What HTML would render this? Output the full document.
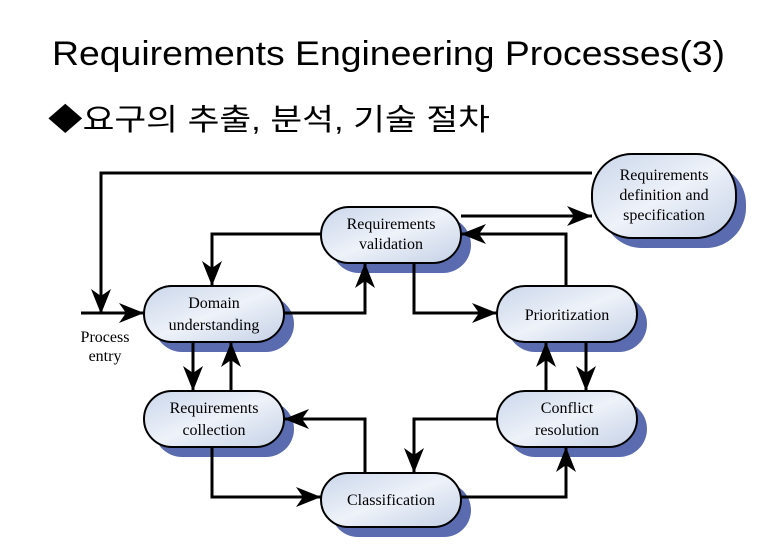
<!DOCTYPE html>
<html><head><meta charset="utf-8"><style>
body{margin:0;background:#fff;width:780px;height:540px;overflow:hidden}
</style></head><body>
<svg width="780" height="540" xmlns="http://www.w3.org/2000/svg">
<defs>
<linearGradient id="g" x1="0" y1="0" x2="1" y2="1">
<stop offset="0" stop-color="#c9d6ea"/><stop offset="0.5" stop-color="#eef2f9"/><stop offset="1" stop-color="#c4d1e6"/>
</linearGradient>
<marker id="a" markerWidth="26" markerHeight="20" refX="25" refY="10" orient="auto" markerUnits="userSpaceOnUse">
<path d="M0,0 L25,10 L0,20 L7,10 Z" fill="#000"/>
</marker>
</defs>
<text x="52" y="65" font-family="'Liberation Sans',sans-serif" font-size="34" fill="#000" textLength="673" lengthAdjust="spacingAndGlyphs">Requirements Engineering Processes(3)</text>
<text x="48" y="130" font-family="'Liberation Sans','Noto Sans CJK KR',sans-serif" font-size="30" fill="#000" textLength="442" lengthAdjust="spacingAndGlyphs">◆요구의 추출, 분석, 기술 절차</text>
<g fill="#5a6bb0">
<rect x="154" y="296" width="140" height="56" rx="28"/>
<rect x="331" y="217" width="140" height="56" rx="28"/>
<rect x="602" y="164" width="144" height="84" rx="40"/>
<rect x="507" y="296" width="140" height="56" rx="28"/>
<rect x="154" y="401" width="140" height="56" rx="28"/>
<rect x="507" y="401" width="140" height="56" rx="28"/>
<rect x="331" y="483" width="140" height="54" rx="27"/>
</g>
<g fill="url(#g)" stroke="#000" stroke-width="2">
<rect x="144" y="286" width="140" height="56" rx="28"/>
<rect x="321" y="207" width="140" height="56" rx="28"/>
<rect x="592" y="154" width="144" height="84" rx="40"/>
<rect x="497" y="286" width="140" height="56" rx="28"/>
<rect x="144" y="391" width="140" height="56" rx="28"/>
<rect x="497" y="391" width="140" height="56" rx="28"/>
<rect x="321" y="473" width="140" height="54" rx="27"/>
</g>
<g font-family="'Liberation Serif',serif" font-size="16" fill="#000" text-anchor="middle">
<text x="214" y="308">Domain</text><text x="214" y="330">understanding</text>
<text x="391" y="229">Requirements</text><text x="391" y="249">validation</text>
<text x="664" y="180">Requirements</text><text x="664" y="200">definition and</text><text x="664" y="220">specification</text>
<text x="567" y="320">Prioritization</text>
<text x="214" y="413">Requirements</text><text x="214" y="435">collection</text>
<text x="567" y="413">Conflict</text><text x="567" y="435">resolution</text>
<text x="391" y="505">Classification</text>
<text x="105" y="342">Process</text><text x="105" y="361">entry</text>
</g>
<g fill="none" stroke="#000" stroke-width="3" marker-end="url(#a)">
<polyline points="592,173 101,173 101,314"/>
<polyline points="81,313 144,313"/>
<polyline points="284,313 365,313 365,263"/>
<polyline points="321,234 212,234 212,286"/>
<polyline points="461,216 592,216"/>
<polyline points="566,286 566,234 461,234"/>
<polyline points="414,263 414,313 497,313"/>
<polyline points="193,342 193,391"/>
<polyline points="231,391 231,342"/>
<polyline points="546,391 546,342"/>
<polyline points="586,342 586,391"/>
<polyline points="212,447 212,497 321,497"/>
<polyline points="365,473 365,419 284,419"/>
<polyline points="497,419 414,419 414,473"/>
<polyline points="461,497 566,497 566,447"/>
</g>
</svg>
</body></html>
